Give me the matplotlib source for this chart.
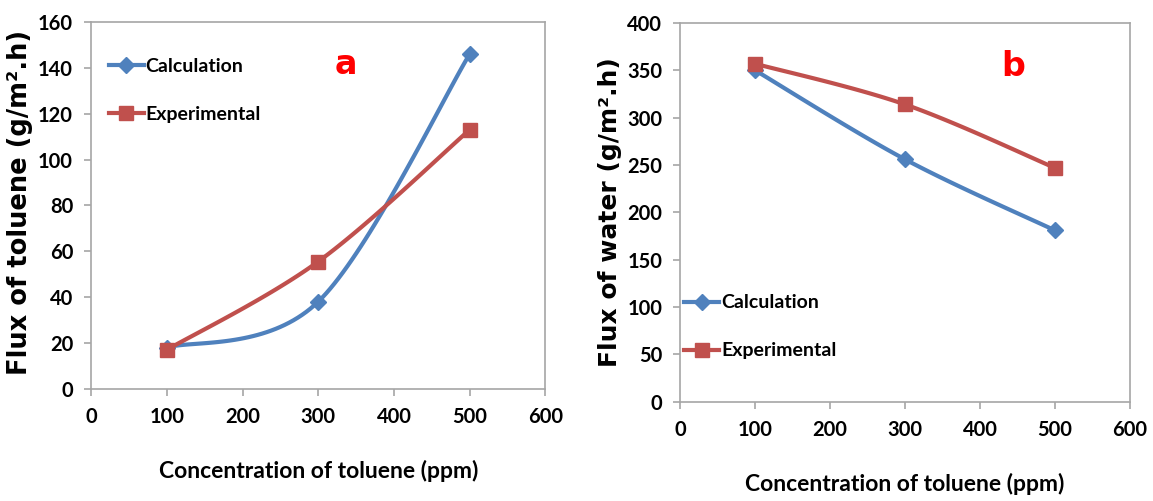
import numpy as np
import matplotlib.pyplot as plt

# Data
conc = [100, 300, 500]
toluene_calc = [18, 38, 146]
toluene_exp = [17, 55.5, 113]
water_calc = [350, 256, 181]
water_exp = [357, 314, 247]

blue = "#4F81BD"
red = "#C0504D"
grey = "#A6A6A6"
tick_font = "Lato"


def smooth(ax, xs, ys, n=40):
    # Excel-style smoothed line (cardinal bezier) drawn in axes space
    xl, yl = ax.get_xlim(), ax.get_ylim()
    p = np.column_stack([(np.array(xs) - xl[0]) / (xl[1] - xl[0]),
                         (np.array(ys) - yl[0]) / (yl[1] - yl[0])])
    pts = []
    for i in range(len(p) - 1):
        p0 = p[max(i - 1, 0)]
        p1, p2 = p[i], p[i + 1]
        p3 = p[min(i + 2, len(p) - 1)]
        c1 = p1 + (p2 - p0) / 6
        c2 = p2 - (p3 - p1) / 6
        t = np.linspace(0, 1, n)[:, None]
        seg = (1 - t) ** 3 * p1 + 3 * (1 - t) ** 2 * t * c1 + 3 * (1 - t) * t ** 2 * c2 + t ** 3 * p2
        pts.append(seg)
    pts = np.vstack(pts)
    return xl[0] + pts[:, 0] * (xl[1] - xl[0]), yl[0] + pts[:, 1] * (yl[1] - yl[0])


fig = plt.figure(figsize=(11.53, 5.01), dpi=100)
ax1 = fig.add_axes([0.079, 0.224, 0.394, 0.732])
ax2 = fig.add_axes([0.590, 0.198, 0.390, 0.756])

panels = [
    (ax1, toluene_calc, toluene_exp, 160, 20, "Flux of toluene (g/m\u00b2.h)", 18.5, "a", (0.56, 0.885), (0.0, 0.95)),
    (ax2, water_calc, water_exp, 400, 50, "Flux of water (g/m\u00b2.h)", 18, "b", (0.74, 0.885), (-0.03, 0.33)),
]

for ax, calc, exp, ymax, ystep, ylab, ylsize, tag, tagpos, legpos in panels:
    ax.set_xlim(0, 600)
    ax.set_ylim(0, ymax)
    ax.set_xticks(range(0, 601, 100))
    ax.set_yticks(range(0, ymax + 1, ystep))
    for s in ax.spines.values():
        s.set_color(grey)
        s.set_linewidth(1.2)
    ax.tick_params(direction="out", length=5, color=grey, width=1.2, pad=8)
    for lbl in ax.get_xticklabels() + ax.get_yticklabels():
        lbl.set_fontfamily(tick_font)
        lbl.set_fontweight("bold")
        lbl.set_fontsize(14.5)

    sx, sy = smooth(ax, conc, calc)
    ax.plot(sx, sy, color=blue, lw=3)
    ax.plot(conc, calc, ls="none", marker="D", ms=8, color=blue)
    ex, ey = smooth(ax, conc, exp)
    ax.plot(ex, ey, color=red, lw=3)
    ax.plot(conc, exp, ls="none", marker="s", ms=10, color=red)

    # legend handles
    ax.plot([], [], color=blue, lw=3, marker="D", ms=8, label="Calculation")
    ax.plot([], [], color=red, lw=3, marker="s", ms=10, label="Experimental")
    ax.legend(loc="upper left", bbox_to_anchor=legpos, frameon=False, handlelength=1.8,
              handletextpad=0.1, labelspacing=1.6,
              prop={"family": tick_font, "weight": "bold", "size": 14})

    ax.text(*tagpos, tag, transform=ax.transAxes, color="red", fontsize=24,
            fontweight="bold", ha="center", va="center")
    ax.set_ylabel(ylab, fontsize=ylsize, fontweight="bold")
    ax.set_xlabel("Concentration of toluene (ppm)", fontfamily=tick_font,
                  fontsize=16.5, fontweight="bold", labelpad=24)

ax1.yaxis.set_label_coords(-0.128, 0.508)
ax2.yaxis.set_label_coords(-0.129, 0.5)

fig.savefig("out.png", dpi=100)
